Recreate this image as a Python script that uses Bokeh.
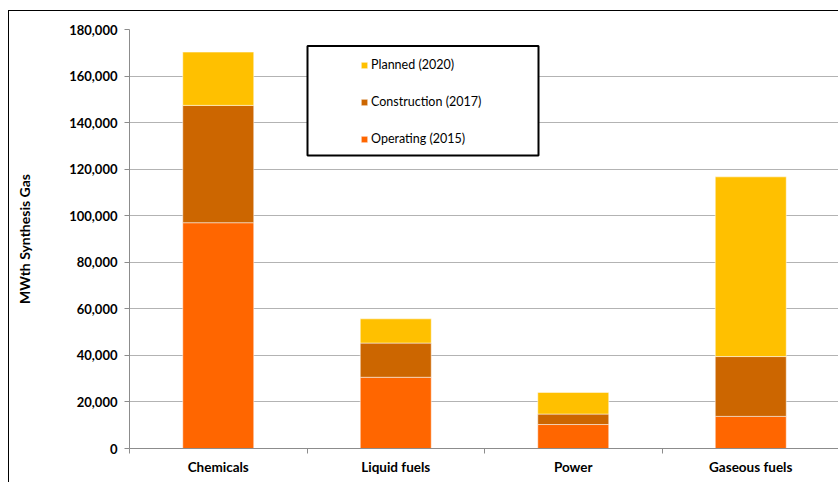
from bokeh.plotting import figure
from bokeh.models import (ColumnDataSource, Range1d, FixedTicker, NumeralTickFormatter,
                          Legend, LegendItem, BoxAnnotation)
from bokeh.embed import file_html
from bokeh.resources import INLINE

# ---- data ----
categories = ["Chemicals", "Liquid fuels", "Power", "Gaseous fuels"]
operating_2015 = [97000, 30600, 10300, 13800]
construction_2017 = [50400, 14700, 4500, 25700]
planned_2020 = [22900, 10400, 9300, 77200]
series_names = ["Operating (2015)", "Construction (2017)", "Planned (2020)"]
series_colors = ["#FF6600", "#CC6600", "#FFC000"]
y_ticks = [0, 20000, 40000, 60000, 80000, 100000, 120000, 140000, 160000, 180000]
y_title = "MWth Synthesis Gas"

FONT = "Lato"

centers = [i + 0.5 for i in range(len(categories))]
boundaries = [float(i) for i in range(len(categories) + 1)]

source = ColumnDataSource(dict(
    x=centers,
    operating=operating_2015,
    construction=construction_2017,
    planned=planned_2020,
))

FRAME_W = 710
FRAME_H = 419

p = figure(width=830, height=472, output_backend="svg", toolbar_location=None,
           x_range=Range1d(0, len(categories)), y_range=Range1d(0, 180000),
           min_border_left=120, min_border_right=0, min_border_top=18, min_border_bottom=35)
p.styles = {"margin-top": "10px", "margin-left": "8px",
            "border-top": "1px solid black", "border-left": "1px solid black"}
p.outline_line_color = None
p.background_fill_color = "white"
p.border_fill_color = "white"

p.extra_x_ranges = {"px": Range1d(0, FRAME_W)}
p.extra_y_ranges = {"px": Range1d(0, FRAME_H)}

renderers = p.vbar_stack(["operating", "construction", "planned"], x="x", width=0.4,
                         color=series_colors, source=source,
                         line_color="white", line_alpha=0.5, line_width=1)

# axes
xa = p.xaxis[0]
xa.ticker = FixedTicker(ticks=centers, minor_ticks=boundaries)
xa.major_label_overrides = {c: n for c, n in zip(centers, categories)}
xa.major_tick_line_color = None
xa.major_tick_out = 0
xa.major_tick_in = 0
xa.minor_tick_out = 5
xa.minor_tick_in = 0
xa.minor_tick_line_color = "#8C8C8C"
xa.axis_line_color = "#8C8C8C"
xa.major_label_standoff = 5
xa.major_label_text_font = FONT
xa.major_label_text_font_style = "bold"
xa.major_label_text_font_size = "13.5px"
xa.major_label_text_color = "black"

ya = p.yaxis[0]
ya.ticker = FixedTicker(ticks=y_ticks)
ya.formatter = NumeralTickFormatter(format="0,0")
ya.minor_tick_line_color = None
ya.major_tick_out = 5
ya.major_tick_in = 0
ya.major_tick_line_color = "#8C8C8C"
ya.axis_line_color = "#8C8C8C"
ya.major_label_standoff = 7
ya.major_label_text_font = FONT
ya.major_label_text_font_style = "bold"
ya.major_label_text_font_size = "13px"
ya.major_label_text_color = "black"
ya.axis_label = y_title
ya.axis_label_text_font = FONT
ya.axis_label_text_font_style = "bold"
ya.axis_label_text_font_size = "14px"
ya.axis_label_text_color = "black"
ya.axis_label_standoff = 33

p.xgrid.grid_line_color = None
p.ygrid.grid_line_color = "#B3B3B3"
p.ygrid.grid_line_width = 1

# legend box
box = BoxAnnotation(left=178, right=409, bottom=293, top=402.5,
                    x_range_name="px", y_range_name="px",
                    fill_color="white", fill_alpha=1.0,
                    line_color="black", line_width=2, line_alpha=1.0)
p.add_layout(box)

items = [LegendItem(label=series_names[i], renderers=[renderers[i]]) for i in (2, 1, 0)]
legend = Legend(items=items, location=(231, 302), padding=0, margin=0, spacing=22,
                glyph_width=8, glyph_height=8, label_height=8, label_standoff=3,
                border_line_color=None, background_fill_alpha=0,
                label_text_font=FONT, label_text_font_size="12.5px", label_text_color="black")
p.add_layout(legend, "center")

open("out.html", "w").write(file_html(p, INLINE))
